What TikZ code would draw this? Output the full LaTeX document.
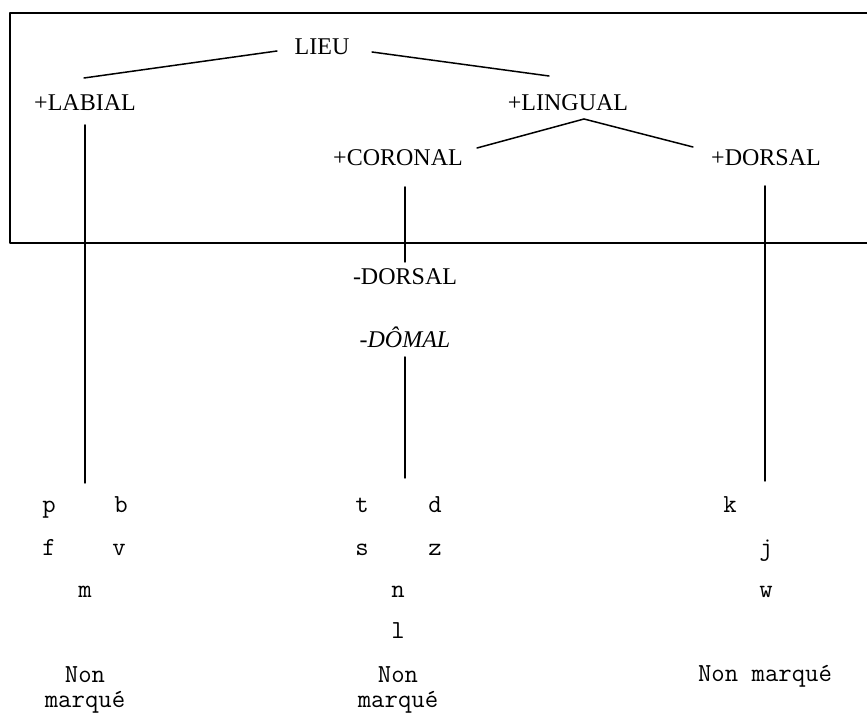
\documentclass[tikz,border=0pt]{standalone}
\usepackage{fontspec}
\setmainfont{Liberation Serif}
\begin{document}
\begin{tikzpicture}[x=0.5pt,y=-0.5pt,line cap=round,line join=round,
    feat/.style={inner sep=0pt,font=\fontsize{12}{14}\selectfont},
    phon/.style={inner sep=0pt,anchor=base,font=\fontsize{13}{12.5}\selectfont\ttfamily},
    branch/.style={line width=0.75pt}]
  \useasboundingbox (0,0) rectangle (867,715);
  % Frame around the place-feature tree (open on the right).
  \draw[line width=1pt] (867,13) -| (10,243) -- (867,243);
  % Feature nodes.
  \node[feat] (lieu) at (322,47) {LIEU};
  \node[feat] (labial) at (85,103) {+LABIAL};
  \node[feat] (lingual) at (568,103) {+LINGUAL};
  \node[feat] (coronal) at (398,158) {+CORONAL};
  \node[feat] (dorsal) at (766,158) {+DORSAL};
  \node[feat] (nondorsal) at (405,277) {-DORSAL};
  \node[feat] (nondomal) at (405,337) {\itshape -DÔMAL};
  % Consonants under each branch.
  \node[phon] (p) at (49,513) {p};
  \node[phon] (b) at (121,513) {b};
  \node[phon] (f) at (49,555) {f};
  \node[phon] (v) at (119,555) {v};
  \node[phon] (m) at (85,597) {m};
  \node[phon] (t) at (362,513) {t};
  \node[phon] (d) at (435,513) {d};
  \node[phon] (s) at (362,555) {s};
  \node[phon] (z) at (435,555) {z};
  \node[phon] (n) at (398,597) {n};
  \node[phon] (l) at (398,638) {l};
  \node[phon] (k) at (730,513) {k};
  \node[phon] (j) at (766,555) {j};
  \node[phon] (w) at (766,597) {w};
  \node[phon,anchor=center,align=center] (labnm) at (85,690) {Non\\marqué};
  \node[phon,anchor=center,align=center] (cornm) at (398,690) {Non\\marqué};
  \node[phon] (dornm) at (765,681) {Non marqué};
  % Branches.
  \draw[branch] ([shift={(-45,4)}]lieu.center) -- ([shift={(-1,-25)}]labial.center);
  \draw[branch] ([shift={(50,5)}]lieu.center) -- ([shift={(-19,-27)}]lingual.center);
  \draw[branch] ([shift={(16,16)}]lingual.center) -- ([shift={(79,-10)}]coronal.center);
  \draw[branch] ([shift={(16,16)}]lingual.center) -- ([shift={(-73,-11)}]dorsal.center);
  \draw[branch] ([shift={(0,22)}]labial.center) -- ([shift={(36,-30)}]p.base);
  \draw[branch] ([shift={(7,29)}]coronal.center) -- ([shift={(0,-15)}]nondorsal.center);
  \draw[branch] ([shift={(0,20)}]nondomal.center) -- ([shift={(43,-35)}]t.base);
  \draw[branch] ([shift={(-1,28)}]dorsal.center) -- ([shift={(-1,-74)}]j.base);
\end{tikzpicture}
\end{document}
